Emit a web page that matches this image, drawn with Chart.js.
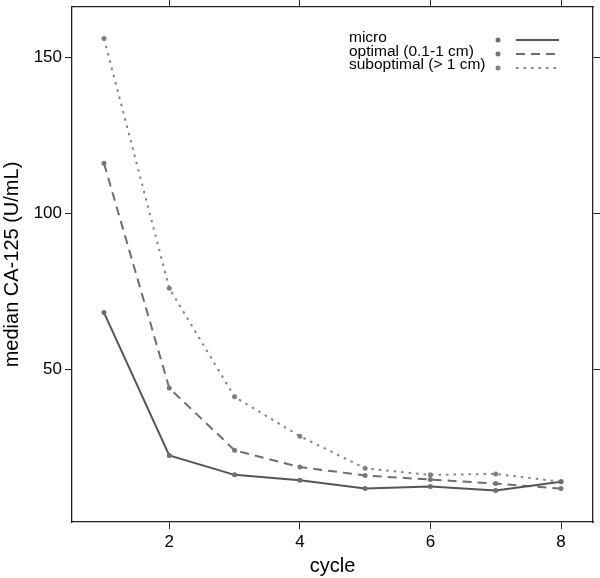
<!DOCTYPE html>
<html>
<head>
<meta charset="utf-8">
<script src="https://cdn.jsdelivr.net/npm/chart.js@4/dist/chart.umd.min.js"></script>
<style>
  html, body { margin: 0; padding: 0; background: #fff; }
  #wrap { width: 600px; height: 578px; }
</style>
</head>
<body>
<div id="wrap"><canvas id="chart" width="600" height="578"></canvas></div>
<script>
// 数据
const cycles = [1, 2, 3, 4, 5, 6, 7, 8];
const micro = [68.3, 22.5, 16.3, 14.6, 11.9, 12.6, 11.3, 14.1];
const optimal = [116.1, 44.1, 24.2, 18.8, 16.1, 14.8, 13.5, 11.9];
const suboptimal = [156.1, 76.1, 41.3, 28.7, 18.4, 16.3, 16.6, 14.1];
const seriesNames = ['micro', 'optimal (0.1-1 cm)', 'suboptimal (> 1 cm)'];
const xTicks = [2, 4, 6, 8];
const yTicks = [50, 100, 150];

Chart.defaults.font.family = "'Liberation Sans', Arial, Helvetica, sans-serif";
Chart.defaults.color = '#000';

function toPoints(values) {
  return cycles.map((c, i) => ({ x: c, y: values[i] }));
}

const axisColor = '#222';

function setTicks(list) {
  return function(scale) {
    scale.ticks = list.map(v => ({ value: v }));
  };
}

// 固定坐标轴尺寸，去掉自动留白
function fixSize(prop, size) {
  return function(s) {
    s[prop] = size;
    s.paddingTop = 0; s.paddingBottom = 0;
    s.paddingLeft = 0; s.paddingRight = 0;
  };
}

// 图例（文字 - 点 - 线）
const sideLegend = {
  id: 'sideLegend',
  afterDraw(chart) {
    const ctx = chart.ctx;
    const baselines = [42, 55.5, 69];
    const pointsY = [40, 54, 68];
    ctx.save();
    chart.data.datasets.forEach((ds, i) => {
      ctx.font = "15.5px 'Liberation Sans', Arial, sans-serif";
      ctx.fillStyle = '#000';
      ctx.textAlign = 'left';
      ctx.textBaseline = 'alphabetic';
      ctx.fillText(ds.label, 349, baselines[i]);

      ctx.fillStyle = ds.pointBackgroundColor;
      ctx.beginPath();
      ctx.arc(498, pointsY[i], 2.5, 0, Math.PI * 2);
      ctx.fill();

      ctx.strokeStyle = ds.borderColor;
      ctx.lineWidth = ds.borderWidth;
      ctx.setLineDash(ds.borderDash || []);
      ctx.beginPath();
      ctx.moveTo(516, pointsY[i]);
      ctx.lineTo(559, pointsY[i]);
      ctx.stroke();
    });
    ctx.restore();
  }
};

new Chart(document.getElementById('chart'), {
  type: 'line',
  data: {
    datasets: [
      {
        label: seriesNames[0],
        data: toPoints(micro),
        borderColor: '#555555',
        borderWidth: 2,
        borderDash: [],
        pointBackgroundColor: '#6e6e6e',
        pointBorderWidth: 0,
        pointRadius: 2.5,
        tension: 0
      },
      {
        label: seriesNames[1],
        data: toPoints(optimal),
        borderColor: '#6e6e6e',
        borderWidth: 2,
        borderDash: [9, 6],
        pointBackgroundColor: '#777777',
        pointBorderWidth: 0,
        pointRadius: 2.5,
        tension: 0
      },
      {
        label: seriesNames[2],
        data: toPoints(suboptimal),
        borderColor: '#858585',
        borderWidth: 2,
        borderDash: [2.5, 5],
        pointBackgroundColor: '#808080',
        pointBorderWidth: 0,
        pointRadius: 2.5,
        tension: 0
      }
    ]
  },
  options: {
    responsive: false,
    animation: false,
    devicePixelRatio: 1,
    layout: { padding: 0 },
    plugins: {
      legend: { display: false },
      tooltip: { enabled: false }
    },
    scales: {
      x: {
        type: 'linear',
        position: 'bottom',
        min: 0.51,
        max: 8.49,
        afterBuildTicks: setTicks(xTicks),
        afterFit: fixSize('height', 56),
        grid: { drawOnChartArea: false, color: axisColor, tickLength: 7, lineWidth: 1 },
        border: { display: true, color: axisColor, width: 1.3 },
        ticks: { font: { size: 17 }, color: '#000', padding: 3, maxRotation: 0 },
        title: { display: true, text: 'cycle', font: { size: 20 }, color: '#000', padding: 0 }
      },
      x2: {
        type: 'linear',
        axis: 'x',
        position: 'top',
        min: 0.51,
        max: 8.49,
        afterBuildTicks: setTicks(xTicks),
        afterFit: fixSize('height', 7),
        grid: { drawOnChartArea: false, color: axisColor, tickLength: 7, lineWidth: 1 },
        border: { display: true, color: axisColor, width: 1.3 },
        ticks: { display: false }
      },
      y: {
        type: 'linear',
        position: 'left',
        min: 1.2,
        max: 166.2,
        afterBuildTicks: setTicks(yTicks),
        afterFit: fixSize('width', 72),
        grid: { drawOnChartArea: false, color: axisColor, tickLength: 7, lineWidth: 1 },
        border: { display: true, color: axisColor, width: 1.3 },
        ticks: { font: { size: 17 }, color: '#000', padding: 3 },
        title: { display: true, text: 'median CA-125 (U/mL)', font: { size: 20 }, color: '#000', padding: 0 }
      },
      y2: {
        type: 'linear',
        axis: 'y',
        position: 'right',
        min: 1.2,
        max: 166.2,
        afterBuildTicks: setTicks(yTicks),
        afterFit: fixSize('width', 7),
        grid: { drawOnChartArea: false, color: axisColor, tickLength: 7, lineWidth: 1 },
        border: { display: true, color: axisColor, width: 1.3 },
        ticks: { display: false }
      }
    }
  },
  plugins: [sideLegend]
});
</script>
</body>
</html>
